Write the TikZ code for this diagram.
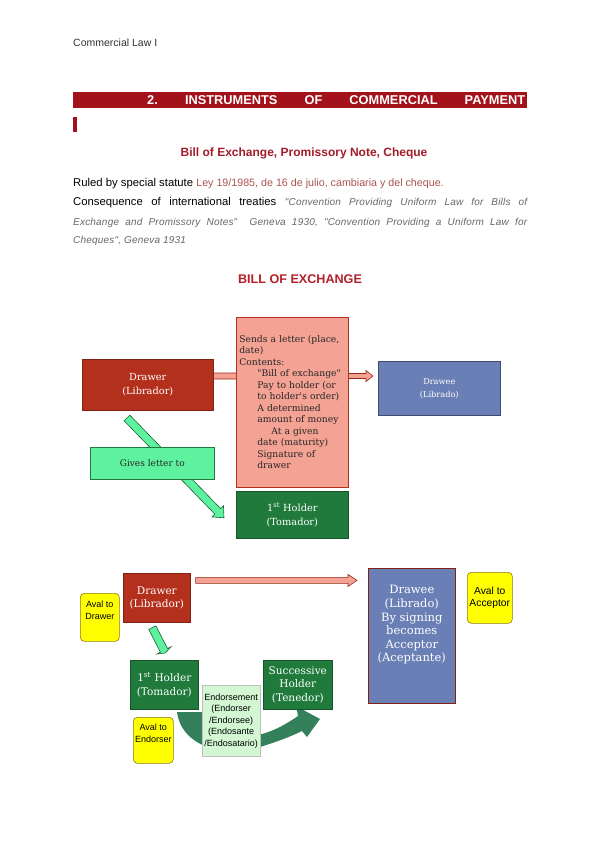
\documentclass[tikz,border=0pt]{standalone}
\usepackage{fontspec}
\setmainfont{Liberation Sans}
\newfontfamily\boxserif{DejaVu Serif}
\newfontfamily\notefont[LetterSpace=2]{Liberation Sans}
\usetikzlibrary{calc, backgrounds}
\frenchspacing
\definecolor{headred}{HTML}{A3121B}
\definecolor{titlered}{HTML}{A31B29}
\definecolor{billred}{HTML}{B3202A}
\definecolor{leyred}{HTML}{A8554F}
\definecolor{notegray}{HTML}{666666}
\definecolor{drawerred}{HTML}{B3301D}
\definecolor{letterpink}{HTML}{F3A294}
\definecolor{draweeblue}{HTML}{6A7FB5}
\definecolor{holdergreen}{HTML}{1F7A3C}
\definecolor{mintgreen}{HTML}{5EF2A0}
\definecolor{endorsegreen}{HTML}{D2F7D2}
\definecolor{curvegreen}{HTML}{33805A}
\definecolor{avalyellow}{HTML}{FFFF00}
\definecolor{avaledge}{HTML}{8C7A10}

% block arrow: style, tail, tip, half shaft, half head, head length
\newcommand{\blockarrow}[6]{%
  \path (#2) coordinate (ba-tail) (#3) coordinate (ba-tip);
  \path ($(ba-tip)!#6!(ba-tail)$) coordinate (ba-base);
  \draw[#1] ($(ba-tail)!#4!90:(ba-tip)$) -- ($(ba-base)!#4!-90:(ba-tail)$)
    -- ($(ba-base)!#5!-90:(ba-tail)$) -- (ba-tip)
    -- ($(ba-base)!#5!90:(ba-tail)$) -- ($(ba-base)!#4!90:(ba-tail)$)
    -- ($(ba-tail)!#4!-90:(ba-tip)$) -- cycle;
}

\tikzset{
  pagetext/.style={anchor=west, inner sep=0pt},
  diagbox/.style={draw, line width=0.6pt, inner sep=2pt, anchor=north west,
    align=center, text=white, font=\boxserif\fontsize{9.8}{14}\selectfont},
  drawerbox/.style={diagbox, fill=drawerred, draw=drawerred!70!black},
  draweebox/.style={diagbox, fill=draweeblue, draw=draweeblue!60!black},
  holderbox/.style={diagbox, fill=holdergreen, draw=holdergreen!70!black},
  letterbox/.style={diagbox, fill=letterpink, draw=drawerred, text=black!85,
    align=left, inner xsep=3pt, font=\boxserif\fontsize{9.2}{11.5}\selectfont},
  givesbox/.style={diagbox, fill=mintgreen, draw=holdergreen, text=black!85,
    font=\boxserif\fontsize{9}{11}\selectfont},
  avalbox/.style={draw=avaledge, fill=avalyellow, line width=0.6pt,
    rounded corners=4pt, anchor=north west, align=center, inner sep=1pt,
    font=\fontsize{9}{11.5}\selectfont},
  endorsebox/.style={draw=gray!50, fill=endorsegreen, anchor=north west,
    align=center, inner sep=1pt, font=\fontsize{9}{11.5}\selectfont},
  pinkarrow/.style={fill=letterpink, draw=drawerred!85!black, line width=0.6pt},
  mintarrow/.style={fill=mintgreen, draw=holdergreen!80!black, line width=0.6pt},
}

\begin{document}
\begin{tikzpicture}[x=1pt, y=-1pt]
  \useasboundingbox (0,0) rectangle (600,848);

  % page header and text
  \node[pagetext, font=\fontsize{10.5}{12}\selectfont, text=black!80] (runhead) at (73,43) {Commercial Law I};
  \node[fill=headred, minimum width=454pt, minimum height=16pt, inner sep=0pt, anchor=north west] (secbar) at (73,92) {};
  \node[pagetext, text=white, font=\bfseries\fontsize{12.8}{14}\selectfont] (sectitle) at (147,100.5)
    {\makebox[378pt][s]{2. INSTRUMENTS OF COMMERCIAL PAYMENT}};
  \node[fill=headred, minimum width=4pt, minimum height=15pt, inner sep=0pt, anchor=north west] (secbarend) at (73,117) {};
  \node[inner sep=0pt, text=titlered, font=\bfseries\fontsize{12}{14}\selectfont] (subtitle) at (304,153)
    {Bill of Exchange, Promissory Note, Cheque};
  \node[pagetext, font=\fontsize{11.3}{13}\selectfont] (ruled) at (73,184)
    {Ruled by special statute \textcolor{leyred}{\fontsize{10.7}{12}\selectfont Ley 19/1985, de 16 de julio, cambiaria y del cheque.}};
  \node[pagetext, font=\fontsize{11.3}{13}\selectfont] (conseq) at (73,203)
    {\makebox[454pt][s]{Consequence of international treaties \textcolor{notegray}{\notefont\itshape\fontsize{10}{12}\selectfont "Convention Providing Uniform Law for Bills of}}};
  \node[pagetext, text=notegray, font=\notefont\itshape\fontsize{10}{12}\selectfont] (geneva) at (73,222.5)
    {\makebox[454pt][s]{Exchange and Promissory Notes"\ \ Geneva 1930, "Convention Providing a Uniform Law for}};
  \node[pagetext, text=notegray, font=\notefont\itshape\fontsize{10}{12}\selectfont] (cheques) at (73,241)
    {Cheques", Geneva 1931};
  \node[inner sep=0pt, text=billred, font=\bfseries\fontsize{12.6}{14}\selectfont] (billtitle) at (300,279)
    {BILL OF EXCHANGE};

  % first diagram
  \node[drawerbox, minimum width=131pt, minimum height=51pt] (drawer) at (82,359) {Drawer\\(Librador)};
  \node[letterbox, text width=106pt, minimum height=170pt] (letter) at (236,317)
    {Sends a letter (place,\\date)\\Contents:\\
     \hspace*{18pt}"Bill of exchange"\\
     \hspace*{18pt}Pay to holder (or\\
     \hspace*{18pt}to holder's order)\\
     \hspace*{18pt}A determined\\
     \hspace*{18pt}amount of money\\
     \hspace*{32pt}At a given\\
     \hspace*{18pt}date (maturity)\\
     \hspace*{18pt}Signature of\\
     \hspace*{18pt}drawer};
  \node[draweebox, minimum width=122pt, minimum height=54pt, font=\boxserif\fontsize{8.2}{13}\selectfont] (drawee) at (378,361) {Drawee\\(Librado)};
  \node[holderbox, minimum width=112pt, minimum height=47pt] (holder) at (236,491) {1\textsuperscript{st} Holder\\(Tomador)};
  \coordinate (givestail) at (127,418);
  \coordinate (givestip) at ($(holder.west)+(-12,3)$);
  \coordinate (sendsout) at ($(drawer.north east)!0.33!(drawer.south east)$);
  \coordinate (sendsin) at ($(letter.west |- sendsout)+(12,0)$);
  \coordinate (letterout) at (letter.east |- sendsout);
  \coordinate (draweein) at ($(drawee.west |- sendsout)+(-5,0)$);
  \begin{pgfonlayer}{background}
    \blockarrow{mintarrow}{givestail}{givestip}{4pt}{8pt}{9pt}
    \blockarrow{pinkarrow}{sendsout}{sendsin}{3pt}{6pt}{7pt}
  \end{pgfonlayer}
  \blockarrow{pinkarrow}{letterout}{draweein}{2.5pt}{5.5pt}{7pt}
  \node[givesbox, minimum width=124pt, minimum height=32pt] (gives) at (90,447) {Gives letter to};

  % second diagram
  \tikzset{diagbox/.append style={font=\boxserif\fontsize{10.5}{13.5}\selectfont}}
  \node[drawerbox, minimum width=67pt, minimum height=49pt] (drawer2) at (123,573) {Drawer\\(Librador)};
  \node[avalbox, minimum width=39pt, minimum height=48pt] (avaldrawer) at (80,593) {Aval to\\Drawer\\[3pt]};
  \node[draweebox, minimum width=87pt, minimum height=135pt, draw=drawerred!70!black] (drawee2) at (368,568) {};
  \node[inner sep=0pt, align=center, text=white, font=\boxserif\fontsize{11.5}{13.6}\selectfont] (drawee2text)
    at ([yshift=11pt]drawee2.center) {Drawee\\(Librado)\\By signing\\becomes\\Acceptor\\(Aceptante)};
  \node[avalbox, minimum width=45pt, minimum height=51pt, font=\fontsize{10.3}{12}\selectfont] (avalacceptor) at (467,572)
    {Aval to\\Acceptor};
  \node[holderbox, minimum width=68pt, minimum height=49pt] (holder2) at (130,660) {1\textsuperscript{st} Holder\\(Tomador)};
  \node[holderbox, minimum width=69pt, minimum height=49pt] (successor) at (263,660) {Successive\\Holder\\(Tenedor)};
  \node[avalbox, minimum width=40pt, minimum height=46pt] (avalendorser) at (133,717) {Aval to\\Endorser\\[3pt]};
  \coordinate (paystart) at ($(drawer2.east)!0.7!(drawer2.north east)+(5,0)$);
  \coordinate (payend) at ($(drawee2.west |- paystart)+(-11,0)$);
  \blockarrow{pinkarrow}{paystart}{payend}{3pt}{6pt}{9pt}
  \coordinate (givestail2) at ($(drawer2.south)+(-4.5,5)$);
  \coordinate (givestip2) at ($(holder2.north)+(1,-7)$);
  \blockarrow{mintarrow}{givestail2}{givestip2}{4pt}{8pt}{3pt}
  \begin{pgfonlayer}{background}
    \fill[curvegreen] (177,712) .. controls (182,750) and (232,758) .. (260,747)
      .. controls (276,742) and (290,737) .. (302,731) -- (307,737) -- (320,719)
      -- (296,706) -- (298,716) .. controls (285,725) and (272,732) .. (258,735)
      .. controls (226,740) and (205,732) .. (202,712) -- cycle;
  \end{pgfonlayer}
  \node[endorsebox, minimum width=58pt, minimum height=71pt] (endorse) at (202,685)
    {Endorsement\\(Endorser\\/Endorsee)\\(Endosante\\/Endosatario)};
\end{tikzpicture}
\end{document}
